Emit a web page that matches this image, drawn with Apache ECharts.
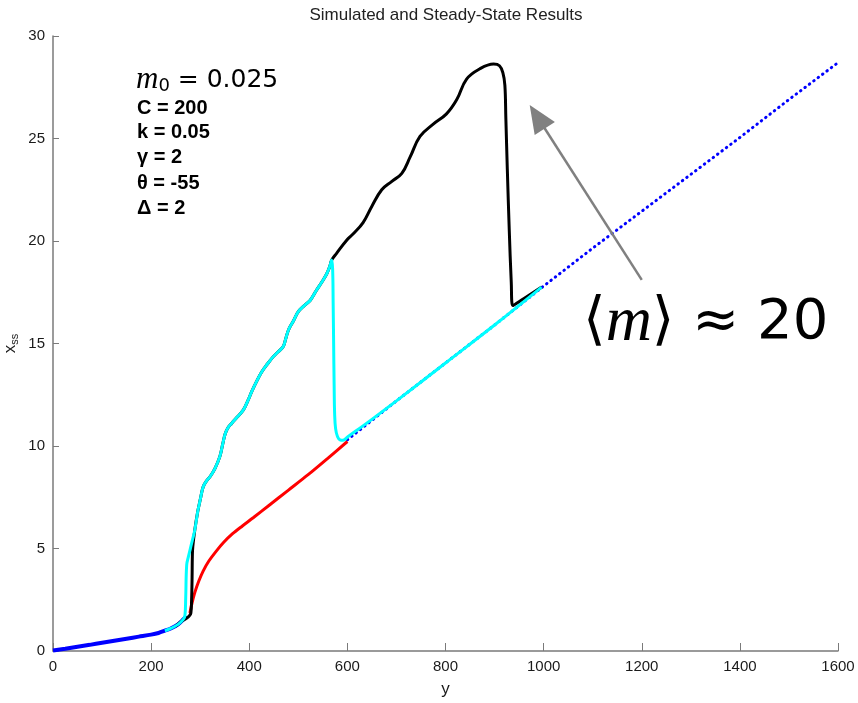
<!DOCTYPE html>
<html>
<head>
<meta charset="utf-8">
<script src="https://cdn.jsdelivr.net/npm/echarts@6/dist/echarts.min.js"></script>
<style>
  html, body { margin: 0; padding: 0; background: #fff; }
  #chart { width: 858px; height: 703px; }
</style>
</head>
<body>
<div id="chart"></div>
<script>
// Axis ticks
const xTicks = [0, 200, 400, 600, 800, 1000, 1200, 1400, 1600];
const yTicks = [0, 5, 10, 15, 20, 25, 30];

// Steady state, low branch (blue, solid)
const ssLowX = [0, 25, 50, 75, 100, 125, 150, 175, 200, 215, 228, 240, 255, 266, 272];
const ssLowY = [0.02, 0.11, 0.21, 0.3, 0.4, 0.5, 0.6, 0.7, 0.8, 0.88, 0.99, 1.1, 1.3, 1.55, 1.7];

// Steady state, middle branch (red)
const ssMidX = [279, 283, 289, 297, 306, 318, 332, 348, 366, 386, 408, 440, 480, 520, 560, 600];
const ssMidY = [1.85, 2.3, 2.85, 3.4, 3.9, 4.4, 4.85, 5.3, 5.72, 6.1, 6.5, 7.1, 7.85, 8.6, 9.4, 10.22];

// Steady state, upper branch (blue, dotted)
const ssHighX = [600, 700, 800, 900, 1000, 1100, 1200, 1300, 1400, 1500, 1600];
const ssHighY = [10.3, 12.2, 14.05, 15.9, 17.8, 19.65, 21.45, 23.25, 25.05, 26.9, 28.7];

// Simulation 1 (cyan)
const simAX = [228, 240, 255, 266, 269, 270.5, 272.5, 276, 279, 284, 289, 295, 300, 306, 313, 320, 330, 340, 346, 351,
               357, 364, 375, 388, 397, 405, 415, 425, 437, 449, 459, 469, 474, 480, 490, 500, 512, 524, 537, 548,
               558, 564, 568, 570, 571, 572, 573, 574, 576, 580, 585, 591, 601, 650, 700, 800, 900, 996];
const simAY = [0.99, 1.1, 1.3, 1.55, 1.75, 2.6, 4.2, 4.6, 4.9, 5.4, 5.9, 6.8, 7.37, 8.0, 8.3, 8.5, 8.9, 9.48, 10.1, 10.6,
               10.9, 11.1, 11.4, 11.76, 12.2, 12.65, 13.15, 13.6, 14.0, 14.36, 14.6, 14.84, 15.2, 15.66, 16.1, 16.55, 16.85, 17.1, 17.6, 18.0,
               18.4, 18.75, 19.07, 18.6, 17.0, 15.0, 13.0, 11.6, 10.85, 10.45, 10.3, 10.28, 10.45, 11.3, 12.2, 14.05, 15.9, 17.75];

// Simulation 2 (black)
const simBX = [250, 262, 272, 278, 281, 282.5, 283.5, 284, 285, 289, 295, 300, 306, 313, 320, 330, 340, 346, 351,
               357, 364, 375, 388, 397, 405, 415, 425, 437, 449, 459, 469, 474, 480, 490, 500, 512, 524, 537, 548,
               558, 564, 568, 578, 599, 612, 632, 650, 670, 690, 711, 728, 748, 775, 802, 823, 843, 870, 898,
               910, 917, 921, 923, 926, 930, 934, 937, 960, 996];
const simBY = [1.2, 1.45, 1.6, 1.72, 1.85, 2.5, 3.6, 4.6, 5.1, 5.9, 6.8, 7.37, 8.0, 8.3, 8.5, 8.9, 9.48, 10.1, 10.6,
               10.9, 11.1, 11.4, 11.76, 12.2, 12.65, 13.15, 13.6, 14.0, 14.36, 14.6, 14.84, 15.2, 15.66, 16.1, 16.55, 16.85, 17.1, 17.6, 18.0,
               18.4, 18.75, 19.07, 19.4, 20.05, 20.35, 20.9, 21.7, 22.5, 22.9, 23.3, 24.1, 25.1, 25.7, 26.2, 26.9, 27.9, 28.4, 28.63,
               28.55, 28.2, 27.6, 26.0, 23.5, 20.5, 18.0, 16.85, 17.2, 17.75];

// Arrow pointing at the upper branch: [tail, head]
const arrowFrom = [1200, 18.1];
const arrowTo = [987, 26.06];

const pairs = (xs, ys) => xs.map((x, i) => [x, ys[i]]);

const chart = echarts.init(document.getElementById('chart'), null, { renderer: 'canvas' });

const axisGray = '#7a7a7a';
const labelFont = { color: '#1a1a1a', fontFamily: 'Liberation Sans', fontSize: 15 };

chart.setOption({
  animation: false,
  backgroundColor: '#ffffff',
  title: {
    text: 'Simulated and Steady-State Results',
    left: 441, top: 2,
    textAlign: 'center',
    textStyle: { fontFamily: 'Liberation Sans', fontSize: 17, fontWeight: 'normal', color: '#222' }
  },
  grid: { left: 53, right: 20, top: 36, bottom: 52, containLabel: false, outerBoundsMode: 'none' },
  xAxis: {
    type: 'value', min: xTicks[0], max: xTicks[xTicks.length - 1], interval: 200,
    name: 'y', nameLocation: 'middle', nameGap: 30,
    nameTextStyle: { fontFamily: 'Liberation Sans', fontSize: 17, color: '#1a1a1a' },
    axisLine: { show: true, lineStyle: { color: axisGray, width: 1.5 } },
    axisTick: { show: true, inside: true, length: 8, lineStyle: { color: axisGray, width: 1 } },
    axisLabel: Object.assign({ margin: 8, formatter: v => String(v) }, labelFont),
    splitLine: { show: false }
  },
  yAxis: {
    type: 'value', min: yTicks[0], max: yTicks[yTicks.length - 1], interval: 5,
    name: '{x|x}{s|ss}', nameLocation: 'middle', nameGap: 33, nameRotate: 90,
    nameMoveOverlap: false,
    nameTextStyle: {
      rich: {
        x: { fontFamily: 'Liberation Sans', fontSize: 17, color: '#1a1a1a' },
        s: { fontFamily: 'Liberation Sans', fontSize: 11, color: '#1a1a1a', padding: [8, 0, 0, 0] }
      }
    },
    axisLine: { show: true, lineStyle: { color: axisGray, width: 1.5 } },
    axisTick: { show: true, inside: true, length: 6, lineStyle: { color: axisGray, width: 1 } },
    axisLabel: Object.assign({ margin: 8, formatter: v => String(v) }, labelFont),
    splitLine: { show: false }
  },
  series: [
    {
      name: 'steady upper', type: 'line', data: pairs(ssHighX, ssHighY),
      showSymbol: false, z: 2,
      lineStyle: { color: '#0000ff', width: 3, type: [0.5, 5], cap: 'round' },
      markLine: {
        silent: true, animation: false,
        symbol: ['none', 'triangle'], symbolSize: [24, 28],
        label: { show: false },
        lineStyle: { color: '#808080', width: 2.5, type: 'solid' },
        data: [[{ coord: arrowFrom }, { coord: arrowTo }]]
      }
    },
    {
      name: 'steady middle', type: 'line', data: pairs(ssMidX, ssMidY),
      showSymbol: false, smooth: 0.3, z: 3,
      lineStyle: { color: '#ff0000', width: 3 }
    },
    {
      name: 'steady lower', type: 'line', data: pairs(ssLowX, ssLowY),
      showSymbol: false, smooth: 0.3, z: 3,
      lineStyle: { color: '#0000ff', width: 4 }
    },
    {
      name: 'simulation B', type: 'line', data: pairs(simBX, simBY),
      showSymbol: false, smooth: 0.4, z: 4,
      lineStyle: { color: '#000000', width: 3 }
    },
    {
      name: 'simulation A', type: 'line', data: pairs(simAX, simAY),
      showSymbol: false, smooth: 0.4, z: 5,
      lineStyle: { color: '#00ffff', width: 3 }
    }
  ],
  graphic: [
    {
      type: 'text', x: 136, y: 80,
      style: {
        text: '{m|m}{s|0}{e| = 0.025}',
        textVerticalAlign: 'middle',
        rich: {
          m: { fontFamily: 'Liberation Serif', fontStyle: 'italic', fontSize: 31, fill: '#000' },
          s: { fontFamily: 'DejaVu Sans', fontSize: 18, padding: [12, 0, 0, 0], fill: '#000' },
          e: { fontFamily: 'DejaVu Sans', fontSize: 25, fill: '#000' }
        }
      }
    },
    { type: 'text', x: 137, y: 108, style: { text: 'C = 200', font: 'bold 20px "Liberation Sans"', fill: '#000', textVerticalAlign: 'middle' } },
    { type: 'text', x: 137, y: 132, style: { text: 'k = 0.05', font: 'bold 20px "Liberation Sans"', fill: '#000', textVerticalAlign: 'middle' } },
    { type: 'text', x: 137, y: 157, style: { text: 'γ = 2', font: 'bold 20px "Liberation Sans"', fill: '#000', textVerticalAlign: 'middle' } },
    { type: 'text', x: 137, y: 183, style: { text: 'θ = -55', font: 'bold 20px "Liberation Sans"', fill: '#000', textVerticalAlign: 'middle' } },
    { type: 'text', x: 137, y: 208, style: { text: 'Δ = 2', font: 'bold 20px "Liberation Sans"', fill: '#000', textVerticalAlign: 'middle' } },
    {
      type: 'text', x: 583, y: 323,
      style: {
        text: '{b|⟨}{m|m}{b|⟩}{e| ≈ 20}',
        textVerticalAlign: 'middle',
        rich: {
          b: { fontFamily: 'DejaVu Sans', fontSize: 58, fill: '#000' },
          m: { fontFamily: 'Liberation Serif', fontStyle: 'italic', fontSize: 64, fill: '#000' },
          e: { fontFamily: 'DejaVu Sans', fontSize: 56, fill: '#000' }
        }
      }
    }
  ]
});
</script>
</body>
</html>
